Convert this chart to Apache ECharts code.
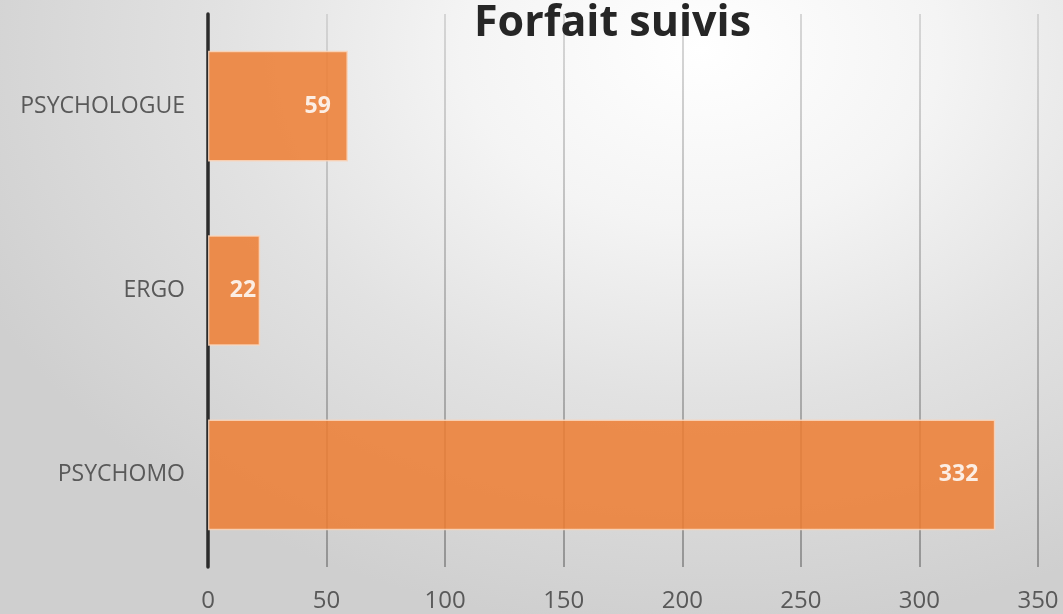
<!DOCTYPE html>
<html>
<head>
<meta charset="utf-8">
<script src="https://cdn.jsdelivr.net/npm/echarts@6/dist/echarts.min.js"></script>
<style>
  html, body { margin: 0; padding: 0; }
  #chart {
    width: 1063px; height: 614px;
    background: radial-gradient(ellipse 75% 95% at 66% 8%, #ffffff 0%, #f4f4f4 30%, #e2e2e2 60%, #cfcfcf 100%);
  }
</style>
</head>
<body>
<div id="chart"></div>
<script>
const categories = ['PSYCHOLOGUE', 'ERGO', 'PSYCHOMO'];
const values = [59, 22, 332];
const labelDistances = [17, 4, 17];
const xTickMax = 350;
const xTickStep = 50;
const titleText = 'Forfait suivis';

const chart = echarts.init(document.getElementById('chart'), null, { renderer: 'canvas' });

const FONT = '"Open Sans", "Noto Sans", sans-serif';

const seriesData = values.map((v, i) => ({
  value: v,
  label: { distance: labelDistances[i] }
}));

chart.setOption({
  backgroundColor: 'transparent',
  animation: false,
  title: {
    text: titleText,
    left: 469,
    top: -3,
    textStyle: { fontFamily: FONT, fontSize: 43, fontWeight: 'bold', color: '#262626' }
  },
  grid: { left: 208, right: 25, top: 14, bottom: 47, outerBoundsMode: 'none', containLabel: false },
  xAxis: {
    type: 'value',
    min: 0,
    max: xTickMax,
    interval: xTickStep,
    axisLine: { show: false },
    axisTick: { show: false },
    axisLabel: { fontFamily: FONT, fontSize: 24, color: '#595959', margin: 22 },
    splitLine: {
      show: true,
      lineStyle: {
        width: 1.5,
        color: new echarts.graphic.LinearGradient(0, 14, 0, 567, [
          { offset: 0, color: '#cbcbcb' },
          { offset: 1, color: '#808080' }
        ], true)
      }
    }
  },
  yAxis: {
    type: 'category',
    data: categories,
    inverse: true,
    axisLine: { show: true, lineStyle: { color: '#2b2b2b', width: 3.5 } },
    axisTick: { show: false },
    axisLabel: { fontFamily: FONT, fontSize: 23, color: '#595959', margin: 23 },
    splitLine: { show: false }
  },
  series: [{
    type: 'bar',
    data: seriesData,
    barCategoryGap: '40%',
    itemStyle: { color: '#ED7D31', opacity: 0.85, borderColor: '#f9d6bd', borderWidth: 1.5 },
    label: {
      show: true,
      position: 'insideRight',
      color: '#ffffff',
      fontFamily: FONT,
      fontSize: 23,
      fontWeight: 'bold'
    }
  }]
});
</script>
</body>
</html>
